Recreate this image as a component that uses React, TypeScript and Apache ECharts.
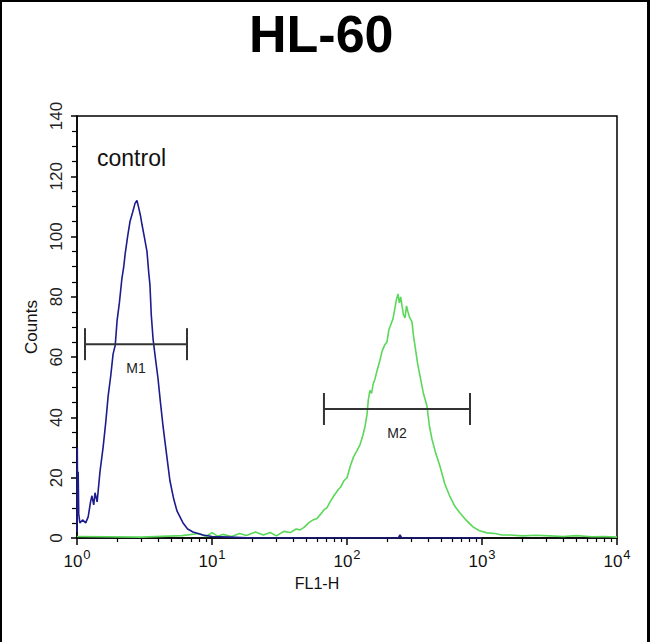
import React, { useEffect, useRef } from "react";
import * as echarts from "echarts";

const chartTitle = "HL-60";
const xAxisName = "FL1-H";
const yAxisName = "Counts";
const controlLabel = "control";

const xMajorTicks = [1, 10, 100, 1000, 10000];
const xMinorTicks = [
  2, 3, 4, 5, 6, 7, 8, 9,
  20, 30, 40, 50, 60, 70, 80, 90,
  200, 300, 400, 500, 600, 700, 800, 900,
  2000, 3000, 4000, 5000, 6000, 7000, 8000, 9000,
];

// control histogram (blue): [FL1-H, counts]
const controlSeries: [number, number][] = [
  [1.0, 2], [1.005, 30], [1.01, 12], [1.02, 22], [1.03, 8], [1.05, 5], [1.1, 6],
  [1.16, 5], [1.21, 7], [1.26, 12], [1.29, 14], [1.33, 11], [1.36, 15], [1.41, 12],
  [1.48, 22], [1.56, 30], [1.63, 38], [1.7, 47], [1.78, 54], [1.85, 61], [1.92, 64],
  [1.98, 72], [2.06, 78], [2.15, 86], [2.22, 90], [2.27, 94], [2.37, 100], [2.47, 105],
  [2.58, 108], [2.69, 111], [2.78, 112], [2.85, 110], [2.95, 107], [3.03, 104],
  [3.15, 100], [3.3, 95], [3.4, 88], [3.47, 84], [3.55, 74], [3.66, 66], [3.8, 60],
  [3.98, 53], [4.15, 45], [4.34, 37], [4.6, 28], [4.88, 19], [5.2, 13], [5.5, 9],
  [6.1, 5], [6.6, 3], [7.23, 2], [8.58, 1], [10, 0.5], [13.6, 0.3], [20, 0],
  [240, 0], [247, 1], [254, 0], [1000, 0],
];

// sample histogram (green): [FL1-H, counts]
const sampleSeries: [number, number][] = [
  [1, 0.5], [3, 0.3], [6, 0.8], [8, 1.5], [9, 0.5], [10, 1.8], [11, 0.6], [12, 1.2],
  [14, 0.5], [16, 1.5], [18, 0.8], [21, 2], [24, 1], [27, 1.8], [30, 0.7], [34, 2.2],
  [38, 1.8], [42, 3], [45, 2.7], [48, 3.5], [52, 5], [56, 6], [60, 6.5], [64, 8],
  [68, 9.5], [71, 10], [75, 12], [80, 14], [86, 16], [90, 17], [95, 19], [100, 20],
  [106, 24], [112, 27], [118.6, 29], [125, 31], [131, 34], [136, 37], [140.7, 41],
  [144, 46], [148, 49], [152, 48], [156, 51], [161, 52.7], [168, 56], [175.5, 59],
  [182, 62], [190, 64], [197.7, 65], [204, 69], [212, 71], [219, 72.7], [226, 76],
  [232, 79], [238.6, 81], [244, 78], [250, 80], [255.5, 77], [262, 74], [269, 73],
  [276, 77], [283, 75], [292, 73], [303, 71.7], [311, 67], [319, 63.7], [333, 58],
  [347.5, 53.7], [368, 48], [391.5, 43.7], [408, 37], [426.6, 32.7], [455, 28],
  [488.7, 23.7], [530, 18], [579, 13.7], [630, 10.5], [687, 8.3], [760, 6],
  [857, 3.7], [950, 2.5], [1089, 1.7], [1250, 1.5], [1400, 1.0], [1611, 1],
  [2000, 0.7], [2500, 0.9], [3191, 0.7], [4000, 0.5], [5000, 0.8], [6500, 0.4],
  [8000, 0.5], [10000, 0.3],
];

// gate markers: [start, end, counts level]
const markerNames = ["M1", "M2"];
const markerRanges: [number, number, number][] = [
  [1.146, 6.53, 64.3],
  [67.5, 815, 42.8],
];

const FONT = "'Liberation Sans', Arial, Helvetica, sans-serif";

export default function App() {
  const ref = useRef<HTMLDivElement>(null);
  useEffect(() => {
    if (!ref.current) return;
    const chart = echarts.init(ref.current, null, { renderer: "svg" });
    const option: any = {
      animation: false,
      backgroundColor: "#ffffff",
      textStyle: { fontFamily: FONT },
      title: {
        text: chartTitle,
        left: 244,
        top: 3,
        textStyle: { fontSize: 52, fontWeight: "bold", color: "#000", fontFamily: FONT },
      },
      grid: {
        left: 77,
        right: 33,
        top: 116,
        bottom: 104,
        show: true,
        borderColor: "#000",
        borderWidth: 1.5,
        backgroundColor: "#fff",
      },
      xAxis: [
        {
          type: "log",
          logBase: 10,
          min: 1,
          max: 10000,
          position: "bottom",
          axisLine: { show: true, lineStyle: { color: "#000", width: 1.5 } },
          axisTick: { show: true, length: 7, customValues: xMajorTicks, lineStyle: { color: "#000", width: 1.5 } },
          splitLine: { show: false },
          axisLabel: {
            customValues: xMajorTicks,
            margin: 10,
            formatter: (v: number) => `{b|10}{s|${Math.round(Math.log10(v))}}`,
            rich: {
              b: { fontSize: 17, color: "#111", fontFamily: FONT, verticalAlign: "bottom", lineHeight: 22 },
              s: { fontSize: 13, color: "#111", fontFamily: FONT, verticalAlign: "top", padding: [0, 0, 0, 1], lineHeight: 13 },
            },
          },
        },
        {
          type: "log",
          logBase: 10,
          min: 1,
          max: 10000,
          position: "bottom",
          axisLine: { show: false },
          axisTick: { show: true, length: 4, customValues: xMinorTicks, lineStyle: { color: "#000", width: 1.2 } },
          axisLabel: { show: false },
          splitLine: { show: false },
        },
      ],
      yAxis: {
        type: "value",
        min: 0,
        max: 140,
        interval: 20,
        name: yAxisName,
        nameLocation: "middle",
        nameRotate: 90,
        nameGap: 25,
        nameTextStyle: { fontSize: 17, color: "#111", fontFamily: FONT },
        axisLine: { show: true, lineStyle: { color: "#000", width: 1.5 } },
        axisTick: { show: true, length: 6, lineStyle: { color: "#000", width: 1.5 } },
        minorTick: { show: true, splitNumber: 4, length: 5, lineStyle: { color: "#000", width: 1.2 } },
        splitLine: { show: false },
        axisLabel: { rotate: 90, fontSize: 17, color: "#222", margin: 12, fontFamily: FONT },
      },
      series: [
        {
          type: "line",
          name: "control",
          data: controlSeries,
          symbol: "none",
          lineStyle: { color: "#1c1c8f", width: 1.6 },
          z: 3,
        },
        {
          type: "line",
          name: "sample",
          data: sampleSeries,
          symbol: "none",
          lineStyle: { color: "#5ad85a", width: 1.6 },
          z: 2,
        },
        {
          type: "custom",
          data: markerRanges,
          encode: { x: [0, 1], y: 2 },
          z: 4,
          renderItem: (params: any, api: any) => {
            const p1 = api.coord([api.value(0), api.value(2)]);
            const p2 = api.coord([api.value(1), api.value(2)]);
            const h = 16;
            const st = { stroke: "#333", lineWidth: 2 };
            return {
              type: "group",
              children: [
                { type: "line", shape: { x1: p1[0], y1: p1[1], x2: p2[0], y2: p2[1] }, style: st },
                { type: "line", shape: { x1: p1[0], y1: p1[1] - h, x2: p1[0], y2: p1[1] + h }, style: st },
                { type: "line", shape: { x1: p2[0], y1: p2[1] - h, x2: p2[0], y2: p2[1] + h }, style: st },
                {
                  type: "text",
                  x: (p1[0] + p2[0]) / 2,
                  y: p1[1] + 24,
                  style: {
                    text: markerNames[params.dataIndex],
                    fill: "#222",
                    font: `14px ${FONT}`,
                    textAlign: "center",
                    textVerticalAlign: "middle",
                  },
                },
              ],
            };
          },
        },
      ],
      graphic: [
        { type: "rect", shape: { x: 0, y: 0, width: 650, height: 2 }, style: { fill: "#000" } },
        { type: "rect", shape: { x: 0, y: 0, width: 2, height: 642 }, style: { fill: "#000" } },
        { type: "rect", shape: { x: 647, y: 0, width: 3, height: 642 }, style: { fill: "#000" } },
        {
          type: "text",
          left: 97,
          top: 146,
          style: { text: controlLabel, font: `23px ${FONT}`, fill: "#111" },
        },
        {
          type: "text",
          x: 317,
          y: 583,
          style: { text: xAxisName, font: `16px ${FONT}`, fill: "#111", textAlign: "center", textVerticalAlign: "middle" },
        },
      ],
    };
    chart.setOption(option);
    return () => chart.dispose();
  }, []);
  return (
    <div
      ref={ref}
      style={{ position: "absolute", left: 0, top: 0, width: 650, height: 642 }}
    />
  );
}
